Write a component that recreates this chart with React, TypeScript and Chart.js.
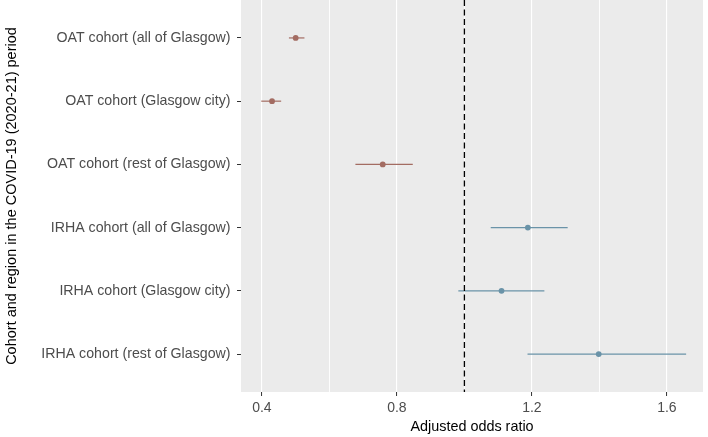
import React, { useEffect, useRef } from "react";
import { Chart, registerables } from "chart.js";

Chart.register(...registerables);

const categories = [
  "OAT cohort (all of Glasgow)",
  "OAT cohort (Glasgow city)",
  "OAT cohort (rest of Glasgow)",
  "IRHA cohort (all of Glasgow)",
  "IRHA cohort (Glasgow city)",
  "IRHA cohort (rest of Glasgow)",
];
const cohorts = ["OAT", "OAT", "OAT", "IRHA", "IRHA", "IRHA"];
const oddsRatios = [0.5, 0.43, 0.758, 1.188, 1.11, 1.398];
const lowerCI = [0.48, 0.398, 0.677, 1.078, 0.982, 1.187];
const upperCI = [0.526, 0.457, 0.847, 1.306, 1.237, 1.657];
const majorTicks = [0.4, 0.8, 1.2, 1.6];
const minorTicks = [0.6, 1.0, 1.4];
const referenceLine = 1.0;
const xTitle = "Adjusted odds ratio";
const yTitle = "Cohort and region in the COVID-19 (2020-21) period";

const cohortColors: Record<string, string> = {
  OAT: "#a36c62",
  IRHA: "#6a93a8",
};

const FONT = "'Liberation Sans', Arial, Helvetica, sans-serif";

export default function App() {
  const ref = useRef<HTMLCanvasElement | null>(null);

  useEffect(() => {
    if (!ref.current) return;
    const groups = ["OAT", "IRHA"];
    const datasets = groups.map((g) => ({
      label: g,
      data: categories
        .map((_, i) => ({ x: oddsRatios[i], y: i + 1, idx: i }))
        .filter((p) => cohorts[p.idx] === g),
      backgroundColor: cohortColors[g],
      borderColor: cohortColors[g],
      pointRadius: 2.9,
      pointBorderWidth: 0,
    }));

    const isMajor = (v: number) => majorTicks.some((t) => Math.abs(t - v) < 1e-6);

    const panelPlugin = {
      id: "panel",
      beforeDraw(chart: any) {
        const { ctx, chartArea: a } = chart;
        ctx.save();
        ctx.fillStyle = "#ebebeb";
        ctx.fillRect(a.left, a.top, a.right - a.left, a.bottom - a.top);
        ctx.restore();
      },
      beforeDatasetsDraw(chart: any) {
        const { ctx } = chart;
        const xs = chart.scales.x;
        const ys = chart.scales.y;
        ctx.save();
        ctx.lineWidth = 1.2;
        categories.forEach((_, i) => {
          const y = ys.getPixelForValue(i + 1);
          ctx.strokeStyle = cohortColors[cohorts[i]];
          ctx.beginPath();
          ctx.moveTo(xs.getPixelForValue(lowerCI[i]), y);
          ctx.lineTo(xs.getPixelForValue(upperCI[i]), y);
          ctx.stroke();
        });
        ctx.restore();
      },
      afterDatasetsDraw(chart: any) {
        const { ctx, chartArea: a } = chart;
        const x = chart.scales.x.getPixelForValue(referenceLine);
        ctx.save();
        ctx.strokeStyle = "#000000";
        ctx.lineWidth = 1.3;
        ctx.setLineDash([6, 3.5]);
        ctx.beginPath();
        ctx.moveTo(x, a.top);
        ctx.lineTo(x, a.bottom);
        ctx.stroke();
        ctx.restore();
      },
    };

    const chart = new Chart(ref.current, {
      type: "scatter",
      data: { datasets: datasets as any },
      options: {
        animation: false,
        responsive: false,
        devicePixelRatio: 1,
        layout: { autoPadding: false, padding: { top: 0, right: 5, bottom: 0, left: 0 } },
        plugins: {
          legend: { display: false },
          tooltip: { enabled: false },
        },
        scales: {
          x: {
            type: "linear",
            min: 0.338,
            max: 1.707,
            afterBuildTicks: (scale: any) => {
              scale.ticks = [...majorTicks, ...minorTicks]
                .sort((a, b) => a - b)
                .map((v) => ({ value: v }));
            },
            afterFit: (scale: any) => {
              scale.height = 45;
              scale.paddingLeft = 0;
              scale.paddingRight = 0;
            },
            border: { display: false },
            grid: {
              color: "#ffffff",
              lineWidth: (c: any) => (c.tick && isMajor(c.tick.value) ? 1.1 : 0.9),
              drawTicks: true,
              tickLength: 4,
              tickWidth: 1,
              tickColor: (c: any) =>
                c.tick && isMajor(c.tick.value) ? "#333333" : "rgba(0,0,0,0)",
            },
            ticks: {
              autoSkip: false,
              maxRotation: 0,
              padding: 4,
              color: "#4d4d4d",
              font: { family: FONT, size: 14 },
              callback: (v: any) => (isMajor(Number(v)) ? String(Number(v)) : ""),
            },
            title: {
              display: true,
              text: xTitle,
              color: "#000000",
              font: { family: FONT, size: 14.4 },
              padding: { top: 0, bottom: 1.2 },
            },
          },
          y: {
            type: "linear",
            min: 0.4,
            max: 6.6,
            reverse: true,
            afterBuildTicks: (scale: any) => {
              scale.ticks = categories.map((_, i) => ({ value: i + 1 }));
            },
            afterFit: (scale: any) => {
              scale.width = 241;
              scale.paddingTop = 0;
              scale.paddingBottom = 0;
            },
            border: { display: false },
            grid: {
              drawOnChartArea: false,
              drawTicks: true,
              tickLength: 4,
              tickWidth: 1,
              tickColor: "#333333",
            },
            ticks: {
              autoSkip: false,
              padding: 6.5,
              color: "#4d4d4d",
              font: { family: FONT, size: 14.2 },
              callback: (v: any) => categories[Number(v) - 1] ?? "",
            },
            title: {
              display: true,
              text: yTitle,
              color: "#000000",
              font: { family: FONT, size: 14.5 },
              padding: { top: 3.5, bottom: 0 },
            },
          },
        },
      },
      plugins: [panelPlugin],
    });

    return () => chart.destroy();
  }, []);

  return (
    <div style={{ position: "absolute", left: 0, top: 0, width: 708, height: 437, background: "#ffffff" }}>
      <canvas ref={ref} width={708} height={437} style={{ display: "block" }} />
    </div>
  );
}
